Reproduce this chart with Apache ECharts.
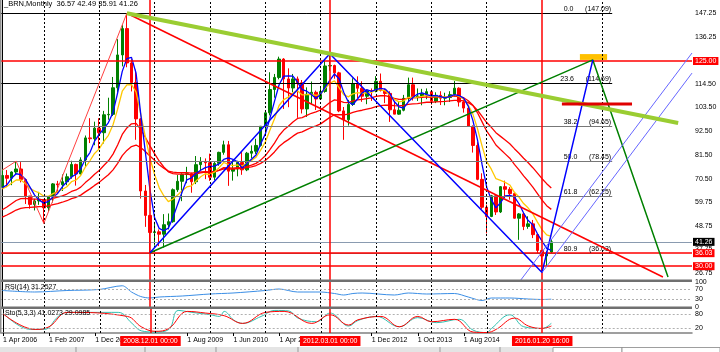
<!DOCTYPE html>
<html>
<head>
<meta charset="UTF-8">
<title>_BRN,Monthly</title>
<script src="https://cdn.jsdelivr.net/npm/echarts@6/dist/echarts.min.js"></script>
<style>
html,body{margin:0;padding:0;background:#fff;}
#main{width:720px;height:352px;}
</style>
</head>
<body>
<div id="main"></div>
<script>
// monthly bars, Apr 2006 .. Mar 2016 (bar 0 = Apr 2006)
var opens = [66.5,72.0,70.7,73.6,75.0,70.1,62.5,58.6,60.2,60.9,
  57.0,62.0,68.1,67.7,69.1,71.4,77.1,72.7,79.2,89.4,
  89.0,93.9,91.8,100.1,100.3,112.6,127.8,140.0,124.1,115.0,
  98.2,64.8,53.5,45.6,45.9,44.8,49.2,50.6,65.4,69.3,
  72.5,72.8,69.1,77.0,78.5,77.9,71.2,77.6,82.7,86.2,
  74.0,75.0,78.0,74.6,82.3,83.2,85.9,94.8,101.0,111.8,
  117.4,125.9,116.7,112.5,116.7,114.9,102.8,109.6,110.5,107.4,
  110.9,122.7,122.9,119.5,101.9,97.8,104.9,114.6,112.4,108.7,
  111.2,111.1,115.6,111.4,110.0,102.4,100.4,102.2,107.7,114.0,
  108.4,108.8,109.7,110.8,106.4,109.1,107.8,108.1,109.4,112.4,
  106.0,103.2,94.7,85.9,70.2,57.3,53.0,62.6,55.1,66.8,
  65.6,63.6,52.2,54.2,48.4,49.6,44.6,37.3,34.7,36.57];
var highs = [74.9,74.5,73.9,78.6,78.2,70.5,62.5,61.2,64.4,61.0,
  62.5,68.5,69.5,72.5,72.9,78.8,77.5,80.4,90.5,98.5,
  96.9,98.5,101.9,108.0,117.6,135.1,141.6,147.1,125.8,121.0,
  98.6,67.6,53.6,50.5,47.0,54.1,54.4,66.0,72.2,73.0,
  76.0,73.3,81.0,80.5,79.9,82.1,78.2,83.0,88.1,88.0,
  79.1,78.8,83.2,82.9,85.9,89.0,94.9,101.7,119.8,119.0,
  127.0,126.3,121.6,119.0,117.8,116.2,112.8,115.5,111.3,113.2,
  125.5,128.4,123.3,120.0,103.7,107.0,117.0,117.9,115.6,111.8,
  112.3,118.0,119.2,112.3,111.0,106.2,106.1,109.3,117.3,117.3,
  112.3,112.1,112.3,110.9,110.5,111.0,110.3,111.0,115.7,112.8,
  106.9,103.4,95.2,87.4,73.0,58.5,63.0,62.9,67.1,69.6,
  66.6,63.9,54.6,54.8,53.1,51.4,44.8,37.4,37.0,42.49];
var lows = [66.2,66.6,67.5,72.2,68.8,58.8,56.6,55.8,58.4,49.8,
  55.5,59.5,63.6,64.8,67.5,70.5,67.3,72.5,76.0,87.0,
  86.0,84.4,86.8,97.8,99.5,110.5,122.5,122.1,110.9,88.5,
  61.3,48.2,36.2,39.5,39.3,38.6,47.0,50.1,64.4,60.1,
  68.4,64.0,68.0,74.1,70.3,69.5,69.8,76.5,81.6,67.2,
  69.6,71.6,72.3,74.0,80.0,82.0,85.4,92.8,99.8,108.0,
  116.5,102.8,103.6,110.5,98.7,100.7,99.1,105.0,102.3,107.0,
  110.3,120.5,116.8,101.3,88.5,95.1,104.2,107.7,106.1,105.0,
  106.5,110.5,110.9,105.5,96.8,100.4,100.1,101.7,106.4,106.7,
  106.5,104.5,107.3,104.8,105.5,104.6,104.5,106.0,108.6,103.9,
  101.1,94.5,82.6,69.8,56.5,45.2,52.7,53.7,54.6,61.6,
  60.8,52.0,42.2,46.7,47.3,43.0,36.0,27.1,30.0,35.91];
var closes = [72.0,70.7,73.6,75.0,70.1,62.5,58.6,60.2,60.9,57.0,
  62.0,68.1,67.7,69.1,71.4,77.1,72.7,79.2,89.4,89.0,
  93.9,91.8,100.1,100.3,112.6,127.8,140.0,124.1,115.0,98.2,
  64.8,53.5,45.6,45.9,44.8,49.2,50.6,65.4,69.3,72.5,
  72.8,69.1,77.0,78.5,77.9,71.2,77.6,82.7,86.2,74.0,
  75.0,78.0,74.6,82.3,83.2,85.9,94.8,101.0,111.8,117.4,
  125.9,116.7,112.5,116.7,114.9,102.8,109.6,110.5,107.4,110.9,
  122.7,122.9,119.5,101.9,97.8,104.9,114.6,112.4,108.7,111.2,
  111.1,115.6,111.4,110.0,102.4,100.4,102.2,107.7,114.0,108.4,
  108.8,109.7,110.8,106.4,109.1,107.8,108.1,109.4,112.4,106.0,
  103.2,94.7,85.9,70.2,57.3,53.0,62.6,55.1,66.8,65.6,
  63.6,52.2,54.2,48.4,49.6,44.6,37.3,34.7,36.0,41.26];

// moving averages
var blueMA = [66.4,67.6,70.7,72.8,72.4,70.3,66.6,62.9,60.6,59.2,
  60.0,62.0,63.7,66.7,69.1,71.3,72.6,75.1,79.6,82.6,
  87.9,91.0,93.7,96.5,101.2,110.2,120.2,126.1,126.7,119.3,
  100.5,82.9,65.5,52.5,47.5,46.4,47.6,52.5,58.6,64.5,
  70.0,70.9,72.9,74.4,75.6,76.2,76.3,77.4,79.4,80.1,
  79.5,78.3,75.4,77.5,79.5,81.5,86.6,91.2,98.4,106.3,
  114.0,118.0,118.1,118.0,115.2,111.7,111.0,109.5,107.6,109.6,
  112.9,116.0,119.0,116.8,110.5,106.0,104.8,107.4,110.2,111.7,
  110.9,111.7,112.3,112.0,109.9,106.1,103.8,103.2,106.1,108.1,
  109.7,110.2,109.4,108.9,109.0,108.5,107.9,108.6,109.4,109.0,
  107.8,104.1,97.5,88.5,77.0,66.6,60.8,57.0,59.4,62.5,
  62.8,62.1,58.9,54.6,51.1,49.2,45.0,41.6,38.2,37.3];
var yellowMA = [65.8,66.9,68.4,69.9,69.9,68.3,66.1,64.8,63.9,62.4,
  62.3,63.6,64.5,65.5,66.8,69.1,69.9,72.0,75.9,78.8,
  82.2,84.3,87.8,90.6,95.5,102.7,111.0,113.9,114.1,110.6,
  100.4,90.0,80.1,72.5,66.4,62.6,59.9,61.1,62.9,65.0,
  66.7,67.2,69.4,71.4,72.8,72.4,73.6,75.6,78.0,77.1,
  76.6,76.9,76.4,77.7,78.9,80.5,83.7,87.5,92.9,98.3,
  104.4,107.1,108.3,110.2,111.2,109.3,109.4,109.6,109.1,109.5,
  112.4,114.7,115.8,112.7,109.4,108.4,109.8,110.4,110.0,110.3,
  110.5,111.6,111.6,111.2,109.2,107.2,106.1,106.5,108.2,108.2,
  108.3,108.6,109.1,108.5,108.6,108.4,108.3,108.5,109.4,108.6,
  107.4,104.6,100.4,93.7,85.6,78.4,74.9,70.5,69.7,68.8,
  67.6,64.2,62.0,59.0,56.9,54.2,50.4,46.9,44.5,43.8];
var redMAfast = [56.1,57.4,58.9,60.4,61.3,61.4,61.1,61.0,61.0,60.6,
  60.7,61.4,62.0,62.6,63.4,64.6,65.3,66.6,68.7,70.5,
  72.6,74.3,76.6,78.8,81.9,86.1,91.0,94.0,95.9,96.1,
  93.3,89.7,85.7,82.1,78.7,76.0,73.7,72.9,72.6,72.6,
  72.6,72.3,72.7,73.2,73.5,73.3,73.7,74.5,75.6,75.5,
  75.4,75.6,75.5,76.1,76.8,77.6,79.1,81.1,84.0,87.0,
  90.5,93.0,94.8,96.8,98.4,98.8,99.8,100.8,101.4,102.3,
  104.1,105.8,107.0,106.6,105.8,105.7,106.5,107.0,107.2,107.6,
  107.9,108.6,108.9,109.0,108.4,107.7,107.2,107.2,107.8,107.9,
  108.0,108.2,108.4,108.2,108.3,108.3,108.3,108.4,108.8,108.5,
  108.0,106.6,104.5,101.0,96.8,92.5,89.5,86.1,84.0,82.0,
  80.0,77.1,74.6,71.8,69.3,66.6,63.6,60.6,58.0,56.3];
var redMAslow = [52.7,53.7,54.8,56.0,56.8,57.1,57.2,57.4,57.6,57.6,
  57.9,58.5,59.0,59.6,60.3,61.3,61.9,62.9,64.4,65.8,
  67.4,68.8,70.6,72.3,74.6,77.6,81.2,83.6,85.4,86.1,
  84.9,83.1,81.0,79.0,77.0,75.4,74.0,73.5,73.3,73.3,
  73.3,73.1,73.3,73.6,73.8,73.7,73.9,74.4,75.1,75.0,
  75.0,75.2,75.2,75.6,76.0,76.6,77.6,78.9,80.8,82.9,
  85.4,87.2,88.6,90.2,91.6,92.2,93.2,94.2,95.0,95.9,
  97.4,98.9,100.1,100.2,100.1,100.4,101.2,101.8,102.2,102.7,
  103.2,103.9,104.3,104.6,104.5,104.3,104.2,104.4,104.9,105.1,
  105.3,105.6,105.9,105.9,106.1,106.2,106.3,106.5,106.8,106.8,
  106.5,105.7,104.4,102.2,99.4,96.5,94.3,91.8,90.1,88.4,
  86.7,84.4,82.3,80.0,77.9,75.6,73.1,70.5,68.2,66.2];

// indicator windows, [bar, value]
var rsiPts = [[0,66],[7,60],[14,66],[21,70],[26,85],[28,60],[30,42],[32,36],[34,40],[39,44],
  [45,52],[50,56],[57,66],[60,72],[64,60],[69,60],[72,54],[74,48],[76,54],[78,56],
  [85,48],[88,56],[92,52],[98,54],[101,40],[104,26],[106,36],[110,36],[114,32],[117,30],[119,31.25]];
var stoK = [[0,83],[6,15],[9,15],[12,69],[14,86],[25,86],[28,40],[30,9],[33,4],[36,15],
  [38,94],[41,86],[45,76],[47,69],[48,90],[50,55],[52,40],[56,69],[59,94],[62,92],
  [64,62],[68,47],[71,83],[72,76],[75,29],[77,52],[81,69],[86,26],[90,64],[94,43],
  [99,57],[102,12],[105,2],[106,19],[110,76],[113,26],[117,19],[119,41.03]];
var stoD = [[0,80],[7,15],[10,26],[14,86],[27,69],[30,26],[33,7],[36,19],[40,90],[44,83],
  [48,72],[52,40],[57,86],[61,90],[67,40],[71,76],[75,33],[77,55],[82,69],[86,26],
  [90,69],[93,47],[98,57],[102,4],[105,2],[107,15],[111,62],[114,29],[117,19],[119,29.10]];

// axis labels
var priceTicks = [147.25,136.25,114.50,103.50,92.50,81.50,70.50,59.75,48.75,37.75,26.75];
var timeTicks = [0,10,20,40,50,60,80,90,100];
var timeNames = ['1 Apr 2006','1 Feb 2007','1 Dec 2007','1 Aug 2009','1 Jun 2010','1 Apr 2011','1 Dec 2012','1 Oct 2013','1 Aug 2014'];
var markBars = [32,71,117];
var markNames = ['2008.12.01 00:00','2012.03.01 00:00','2016.01.20 16:00'];
var gridBars = [9,21,33,45,57,69,81,93,105,130];

// fibo and price levels
var fibLevels = [147.09,114.69,94.65,78.45,62.25,36.03];
var fibNames = ['0.0','23.6','38.2','50.0','61.8','80.9'];
var redLevels = [125.00,36.03,30.00];
var lastPrice = 41.26;

// hand drawn objects, [bar, price]
var limeLine = [[27,147.1],[146.5,96.3]];
var redTrend = [[27,147.1],[143.2,25.0]];
var zigzag = [[0,74.5],[3,78.6],[9,49.8],[27,147.1]];
var blueWave = [[32,36.2],[71,128.4],[117,27.1],[128,125.5]];
var greenWave = [[32,36.2],[128,125.5],[144.3,25.0]];
var chanA = [[112,22.5],[149.5,128.7]];
var chanB = [[117,27.1],[149.5,119.4]];
var targetBar = [[121.3,105.1],[136.5,105.1]];
var targetBox = [[125.2,128.2],[131.1,125.5]];
var fibEnd = 132.2;

var NBARS = 150;
var slots = [];
for (var i = 0; i < NBARS; i++) slots.push(i);

var FONT = 'Liberation Sans';
var fibColors = ['#000','#000','#777','#777','#777','#777'];

function objLine(pts, color, width, z) {
  return {
    type: 'line', xAxisIndex: 1, yAxisIndex: 0, data: pts, symbol: 'none',
    lineStyle: {color: color, width: width}, z: z || 5, silent: true
  };
}
function gridMarks() {
  return gridBars.map(function (b) { return {xAxis: b}; });
}
function redVerticals(withLabel) {
  return markBars.map(function (b, k) {
    var d = {xAxis: b, lineStyle: {color: '#ff0000', width: 1.5, type: 'solid'}};
    if (withLabel) {
      d.label = {show: true, position: 'start', formatter: markNames[k], backgroundColor: '#ff0000',
        color: '#fff', fontSize: 7, fontFamily: FONT, padding: [2, 3, 1, 3], distance: 3};
    }
    return d;
  });
}

var mainMarks = gridMarks().concat(
  fibLevels.map(function (p, k) {
    return [{coord: [-0.5, p], lineStyle: {color: fibColors[k], width: 1, type: 'solid'},
      label: {show: true, position: 'insideEndTop', formatter: fibNames[k] + '      (' + p.toFixed(2) + ')',
        color: '#000', fontSize: 7, fontFamily: FONT, distance: 1}},
      {coord: [fibEnd, p]}];
  }),
  [{yAxis: lastPrice, lineStyle: {color: '#8a9bb0', width: 1, type: 'solid'},
    label: {show: true, position: 'end', formatter: lastPrice.toFixed(2), backgroundColor: '#000', color: '#fff',
      fontSize: 7, fontFamily: FONT, padding: [1, 2, 0, 2], distance: 1}}],
  redLevels.map(function (p) {
    return {yAxis: p, lineStyle: {color: '#ff0000', width: 1.5, type: 'solid'},
      label: {show: true, position: 'end', formatter: p.toFixed(2), backgroundColor: '#ff0000', color: '#fff',
        fontSize: 7, fontFamily: FONT, padding: [1, 2, 0, 2], distance: 1}};
  }),
  redVerticals(false)
);

var option = {
  animation: false,
  backgroundColor: '#fff',
  textStyle: {fontFamily: FONT},
  grid: [
    {left: 0, top: 0, width: 692, height: 280},
    {left: 0, top: 282, width: 692, height: 25},
    {left: 0, top: 309, width: 692, height: 24}
  ],
  xAxis: [
    {type: 'category', gridIndex: 0, data: slots, show: false, boundaryGap: true},
    {type: 'value', gridIndex: 0, min: -0.5, max: NBARS - 0.5, show: false},
    {type: 'value', gridIndex: 1, min: -0.5, max: NBARS - 0.5, show: false},
    {type: 'value', gridIndex: 2, min: -0.5, max: NBARS - 0.5, position: 'bottom',
      axisLine: {show: true, onZero: false, lineStyle: {color: '#808080', width: 1.5}},
      axisTick: {show: true, customValues: timeTicks, length: 3, lineStyle: {color: '#000'}},
      axisLabel: {show: true, customValues: timeTicks, align: 'left', margin: 4, fontSize: 7, color: '#000',
        formatter: function (v) { var k = timeTicks.indexOf(v); return k >= 0 ? timeNames[k] : ''; }},
      splitLine: {show: false}}
  ],
  yAxis: [
    {type: 'value', gridIndex: 0, position: 'right', min: 23.6, max: 153.24,
      axisLine: {show: true, lineStyle: {color: '#000'}},
      axisTick: {show: false},
      axisLabel: {customValues: priceTicks, margin: 3, fontSize: 7, color: '#000',
        formatter: function (v) { return v.toFixed(2); }},
      splitLine: {show: false}},
    {type: 'value', gridIndex: 1, position: 'right', min: 0, max: 100,
      axisLine: {show: true, lineStyle: {color: '#000'}}, axisTick: {show: false},
      axisLabel: {customValues: [0, 30, 70, 100], margin: 3, fontSize: 7, color: '#000'},
      splitLine: {show: false}},
    {type: 'value', gridIndex: 2, position: 'right', min: 0, max: 100,
      axisLine: {show: true, lineStyle: {color: '#000'}}, axisTick: {show: false},
      axisLabel: {customValues: [0, 20, 80, 100], margin: 3, fontSize: 7, color: '#000'},
      splitLine: {show: false}}
  ],
  graphic: {elements: [
    {type: 'text', left: 4, top: 0, style: {text: '_BRN,Monthly  36.57 42.49 35.91 41.26', fontSize: 7.5, fontFamily: FONT, fill: '#000'}},
    {type: 'text', left: 5, top: 284, style: {text: 'RSI(14) 31.2527', fontSize: 7, fontFamily: FONT, fill: '#000'}, z: 10},
    {type: 'text', left: 5, top: 310, style: {text: 'Sto(5,3,3) 41.0273 29.0985', fontSize: 7, fontFamily: FONT, fill: '#000'}, z: 10},
    {type: 'rect', shape: {x: 0, y: 279.5, width: 692, height: 2.5}, style: {fill: '#707070'}, z: 10},
    {type: 'rect', shape: {x: 0, y: 306.5, width: 692, height: 2.5}, style: {fill: '#707070'}, z: 10},
    {type: 'rect', shape: {x: 0, y: 0, width: 1.5, height: 333}, style: {fill: '#909090'}, z: 10},
    {type: 'rect', shape: {x: 0, y: 347, width: 720, height: 5}, style: {fill: '#e4e4e4'}, z: 10},
    {type: 'rect', shape: {x: 553, y: 347.5, width: 69, height: 5}, style: {fill: '#fff', stroke: '#888', lineWidth: 0.8}, z: 11},
    {type: 'rect', shape: {x: 622, y: 347.5, width: 98, height: 5}, style: {fill: '#fff', stroke: '#888', lineWidth: 0.8}, z: 11},
    {type: 'line', shape: {x1: 76, y1: 347, x2: 76, y2: 352}, style: {stroke: '#999'}, z: 11},
    {type: 'line', shape: {x1: 145, y1: 347, x2: 145, y2: 352}, style: {stroke: '#999'}, z: 11},
    {type: 'line', shape: {x1: 216, y1: 347, x2: 216, y2: 352}, style: {stroke: '#999'}, z: 11},
    {type: 'line', shape: {x1: 298, y1: 347, x2: 298, y2: 352}, style: {stroke: '#999'}, z: 11},
    {type: 'line', shape: {x1: 440, y1: 347, x2: 440, y2: 352}, style: {stroke: '#999'}, z: 11},
    {type: 'line', shape: {x1: 500, y1: 347, x2: 500, y2: 352}, style: {stroke: '#999'}, z: 11}
  ]},
  series: [
    // grid lines, fibo, levels, red verticals (main window)
    {type: 'line', xAxisIndex: 1, yAxisIndex: 0, data: [], z: 1, silent: true,
      markLine: {symbol: ['none', 'none'], silent: true, animation: false,
        lineStyle: {color: '#000', width: 1, type: [2, 2]}, label: {show: false},
        data: mainMarks}},
    {type: 'candlestick', xAxisIndex: 0, yAxisIndex: 0, barWidth: 3, z: 2,
      data: opens.map(function (o, i) { return [o, closes[i], lows[i], highs[i]]; }),
      itemStyle: {color: '#008000', color0: '#ff0000', borderColor: '#008000', borderColor0: '#ff0000', borderWidth: 1}},
    {type: 'line', xAxisIndex: 0, yAxisIndex: 0, data: redMAslow, symbol: 'none', z: 3, lineStyle: {color: '#ff0000', width: 1.3}},
    {type: 'line', xAxisIndex: 0, yAxisIndex: 0, data: redMAfast, symbol: 'none', z: 3, lineStyle: {color: '#ff0000', width: 1.3}},
    {type: 'line', xAxisIndex: 0, yAxisIndex: 0, data: yellowMA, symbol: 'none', z: 3, lineStyle: {color: '#ffc800', width: 1.3}},
    {type: 'line', xAxisIndex: 0, yAxisIndex: 0, data: blueMA, symbol: 'none', z: 3, lineStyle: {color: '#0000ff', width: 1.3}},
    objLine(zigzag, '#ff4040', 1),
    objLine(redTrend, '#ff0000', 1.5),
    objLine(greenWave, '#008000', 1.5),
    objLine(blueWave, '#0000ff', 1.5),
    objLine(chanA, '#6666ff', 1),
    objLine(chanB, '#6666ff', 1),
    objLine(limeLine, '#9acd32', 4, 6),
    objLine(targetBar, '#e00000', 3, 6),
    {type: 'line', xAxisIndex: 1, yAxisIndex: 0, data: [], z: 6, silent: true,
      markArea: {silent: true, itemStyle: {color: '#ffc000'},
        data: [[{coord: targetBox[0]}, {coord: targetBox[1]}]]}},
    // RSI window
    {type: 'line', xAxisIndex: 2, yAxisIndex: 1, data: [], z: 1, silent: true,
      markLine: {symbol: ['none', 'none'], silent: true, animation: false,
        lineStyle: {color: '#000', width: 1, type: [2, 2]}, label: {show: false},
        data: gridMarks().concat(
          [{yAxis: 70, lineStyle: {color: '#b0b0b0', type: [2, 2]}}, {yAxis: 30, lineStyle: {color: '#b0b0b0', type: [2, 2]}}],
          redVerticals(false))}},
    {type: 'line', xAxisIndex: 2, yAxisIndex: 1, data: rsiPts, symbol: 'none', smooth: 0.3, z: 3, lineStyle: {color: '#3a8ee6', width: 1}},
    // Stochastic window
    {type: 'line', xAxisIndex: 3, yAxisIndex: 2, data: [], z: 1, silent: true,
      markLine: {symbol: ['none', 'none'], silent: true, animation: false,
        lineStyle: {color: '#000', width: 1, type: [2, 2]}, label: {show: false},
        data: gridMarks().concat(
          [{yAxis: 80, lineStyle: {color: '#b0b0b0', type: [2, 2]}}, {yAxis: 20, lineStyle: {color: '#b0b0b0', type: [2, 2]}}],
          redVerticals(true))}},
    {type: 'line', xAxisIndex: 3, yAxisIndex: 2, data: stoK, symbol: 'none', smooth: 0.4, z: 3, lineStyle: {color: '#30c0b0', width: 1}},
    {type: 'line', xAxisIndex: 3, yAxisIndex: 2, data: stoD, symbol: 'none', smooth: 0.4, z: 3, lineStyle: {color: '#ff0000', width: 1}}
  ]
};

var chart = echarts.init(document.getElementById('main'));
chart.setOption(option);
</script>
</body>
</html>
